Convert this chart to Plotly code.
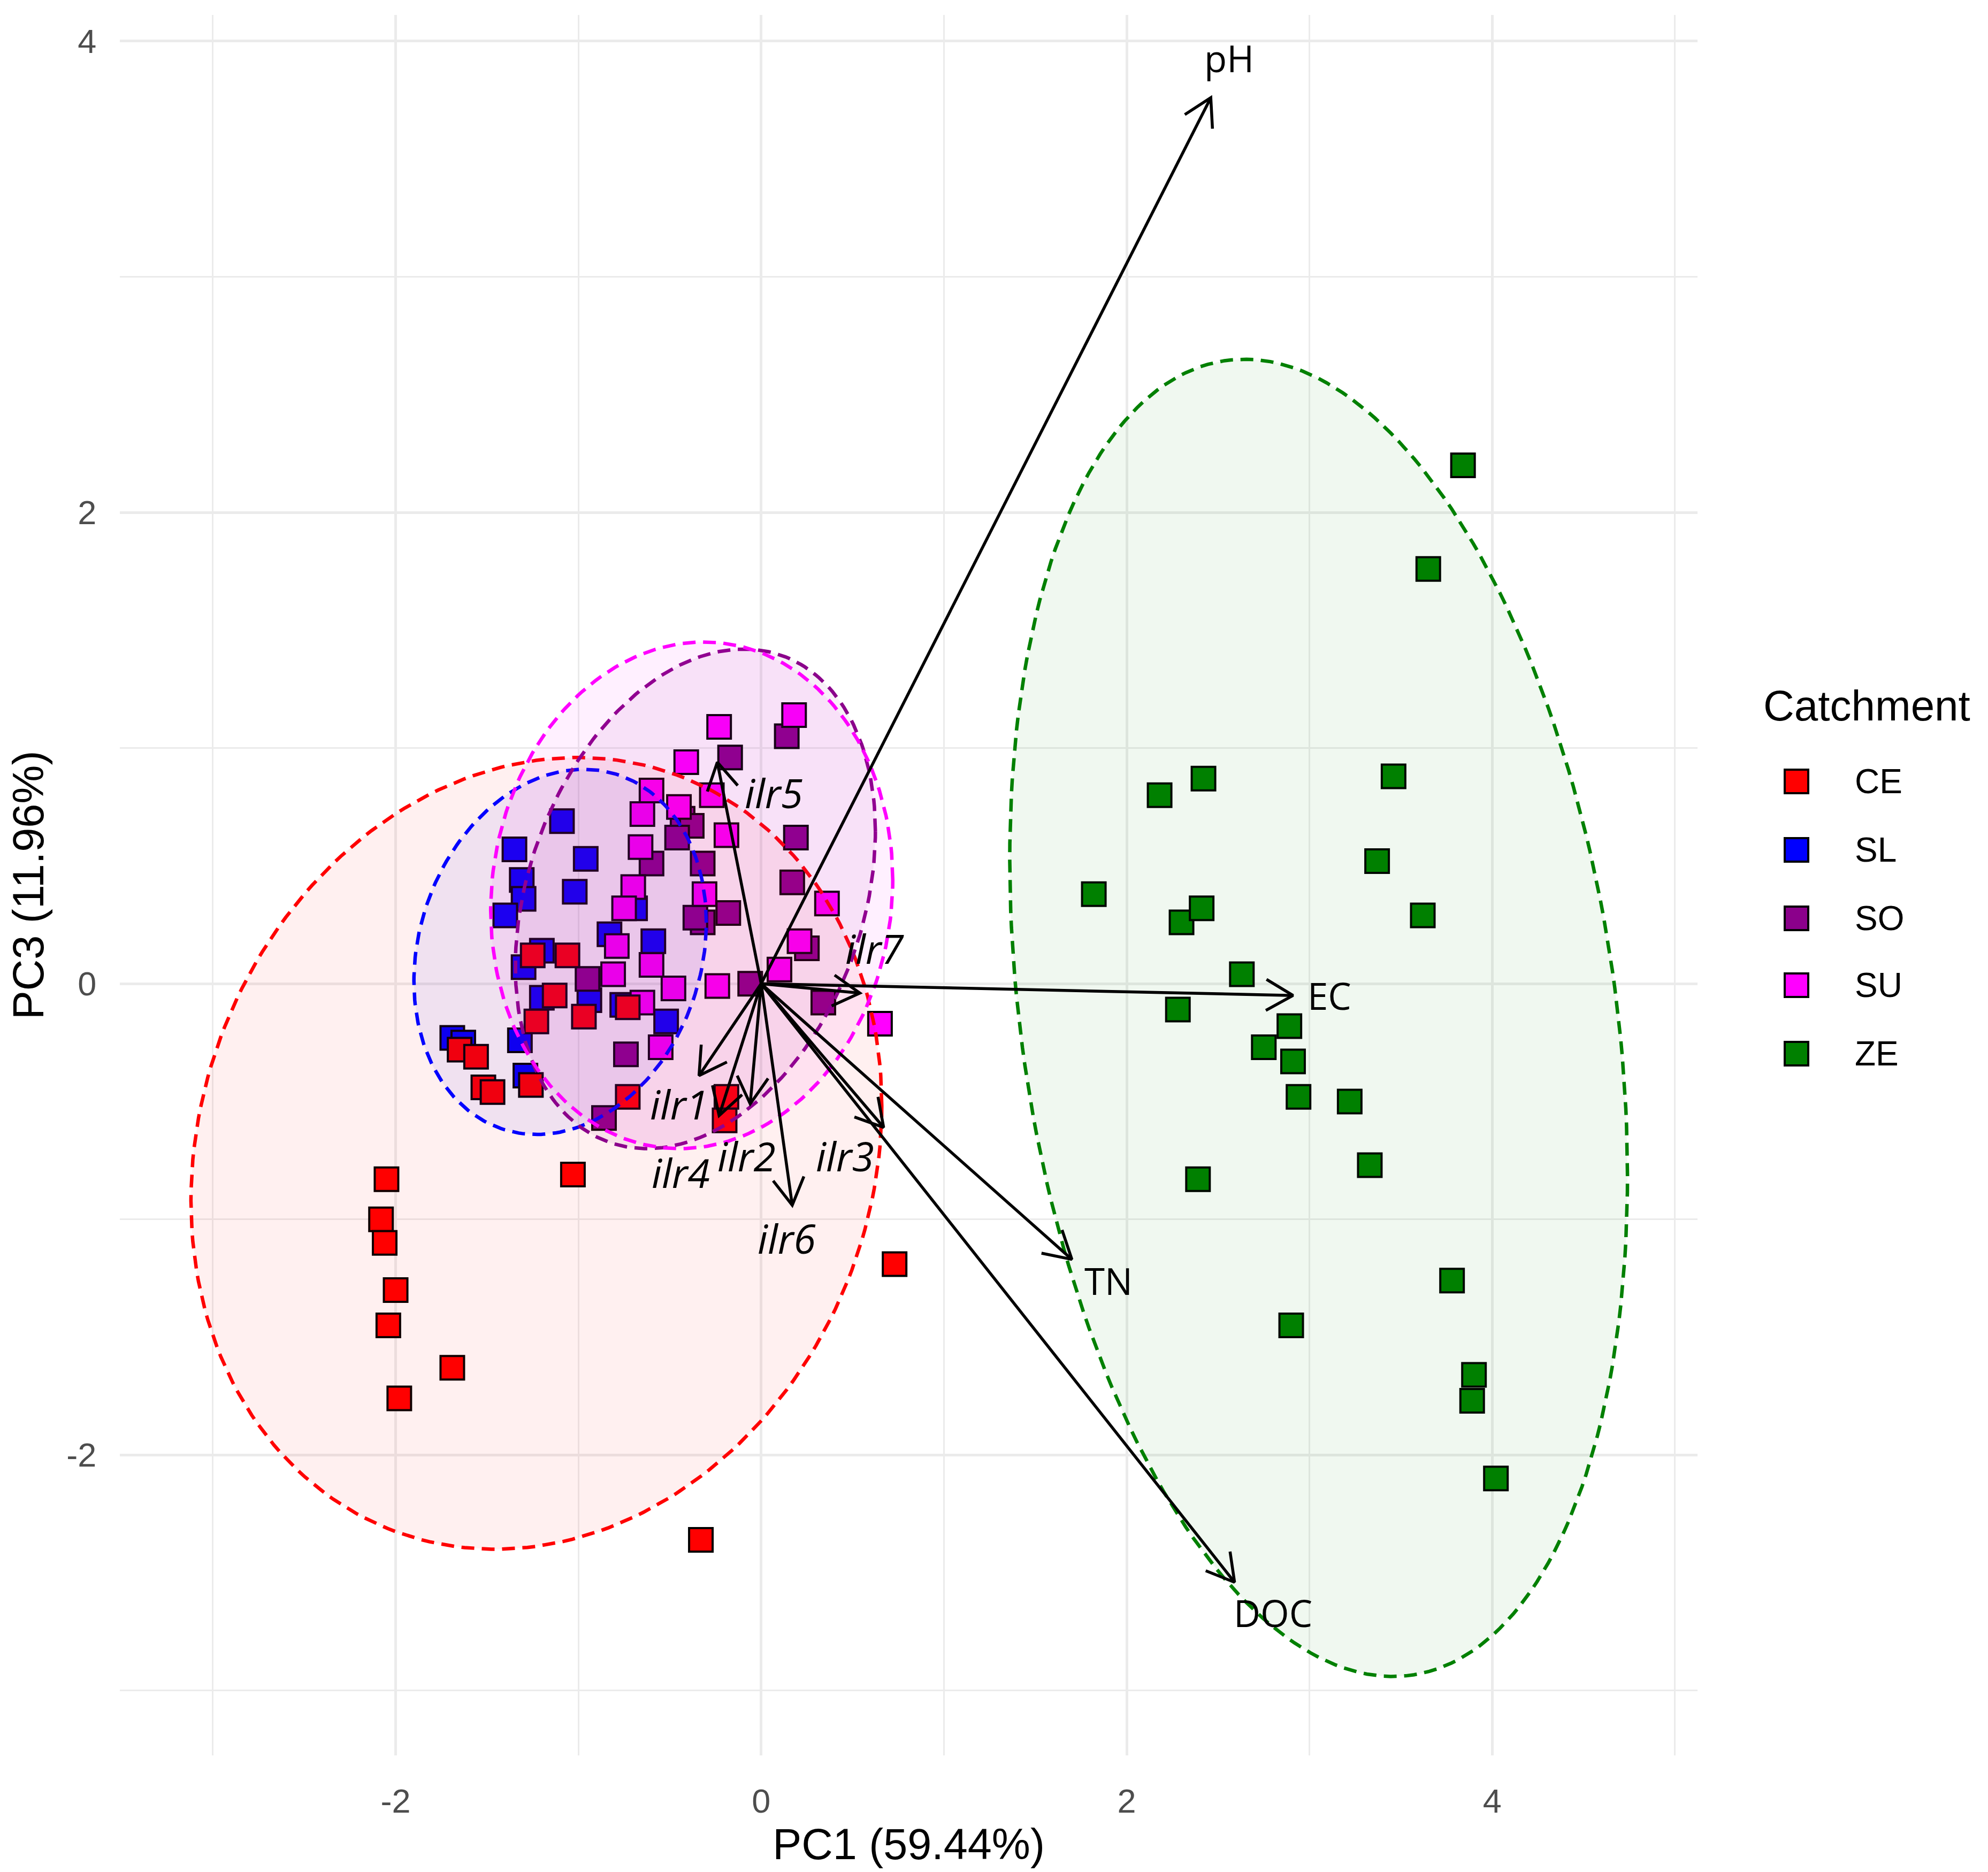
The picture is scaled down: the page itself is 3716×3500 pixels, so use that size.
import numpy as np
import plotly.graph_objects as go

# ---- scores (PC1, PC3) ----
ce_x = [-2.05, -2.08, -2.06, -2.00, -2.04, -1.98, -1.69, -0.33, 0.73, -1.03, -0.19, -0.20,
        -0.73, -1.65, -1.56, -1.52, -1.47, -1.26, -1.23, -1.13, -0.97, -1.25, -1.06, -0.73]
ce_y = [-0.83, -1.00, -1.10, -1.30, -1.45, -1.76, -1.63, -2.36, -1.19, -0.81, -0.48, -0.58,
        -0.48, -0.28, -0.31, -0.44, -0.46, -0.43, -0.16, -0.05, -0.14, 0.12, 0.12, -0.10]

sl_x = [-1.09, -1.35, -0.96, -1.31, -1.02, -1.30, -1.40, -0.69, -0.83, -0.59,
        -1.30, -1.20, -0.94, -1.20, -0.76, -0.52, -1.32, -1.69, -1.63, -1.29]
sl_y = [0.69, 0.57, 0.53, 0.44, 0.39, 0.36, 0.29, 0.32, 0.21, 0.18,
        0.07, 0.14, -0.07, -0.06, -0.09, -0.16, -0.24, -0.23, -0.25, -0.39]

so_x = [0.14, -0.17, 0.19, 0.17, -0.43, -0.38, -0.46, -0.32, -0.60,
        -0.18, -0.32, -0.36, 0.25, -0.06, -0.95, 0.34, -0.74, -0.86]
so_y = [1.05, 0.96, 0.62, 0.43, 0.70, 0.67, 0.62, 0.51, 0.51,
        0.30, 0.26, 0.28, 0.15, 0.00, 0.02, -0.08, -0.30, -0.57]

su_x = [-0.23, 0.18, -0.41, -0.60, -0.45, -0.27, -0.65, -0.19, -0.66, -0.70, -0.31, -0.75,
        0.36, -0.79, 0.21, 0.10, -0.60, -0.81, -0.24, -0.48, -0.65, 0.65, -0.55]
su_y = [1.09, 1.14, 0.94, 0.82, 0.75, 0.80, 0.72, 0.63, 0.58, 0.41, 0.38, 0.32,
        0.34, 0.16, 0.18, 0.06, 0.08, 0.04, -0.01, -0.02, -0.08, -0.17, -0.27]

ze_x = [3.84, 3.65, 2.42, 2.18, 3.46, 1.82, 2.30, 2.41, 3.37, 3.62, 2.63, 2.28,
        2.89, 2.75, 2.91, 2.94, 3.22, 3.33, 2.39, 3.78, 2.90, 3.90, 3.89, 4.02]
ze_y = [2.20, 1.76, 0.87, 0.80, 0.88, 0.38, 0.26, 0.32, 0.52, 0.29, 0.04, -0.11,
        -0.18, -0.27, -0.33, -0.48, -0.50, -0.77, -0.83, -1.26, -1.45, -1.66, -1.77, -2.10]

catchments = ["CE", "SL", "SO", "SU", "ZE"]
colors = {"CE": "#FF0000", "SL": "#0000FF", "SO": "#8B008B", "SU": "#FF00FF", "ZE": "#008000"}
fills = {"CE": "rgba(255,0,0,0.06)", "SL": "rgba(0,0,255,0.06)", "SO": "rgba(139,0,139,0.06)",
         "SU": "rgba(255,0,255,0.06)", "ZE": "rgba(0,128,0,0.06)"}
scores = {"CE": (ce_x, ce_y), "SL": (sl_x, sl_y), "SO": (so_x, so_y),
          "SU": (su_x, su_y), "ZE": (ze_x, ze_y)}

# 95% ellipses: centre, half-extent in x and y, correlation
ell_cx = [-1.23, -1.10, -0.36, -0.38, 3.05]
ell_cy = [-0.72, 0.135, 0.36, 0.375, -0.145]
ell_sx = [1.89, 0.80, 0.985, 1.10, 1.69]
ell_sy = [1.68, 0.775, 1.06, 1.075, 2.795]
ell_rho = [0.12, 0.16, 0.27, 0.06, -0.24]

# loadings
var_names = ["pH", "EC", "TN", "DOC", "ilr1", "ilr2", "ilr3", "ilr4", "ilr5", "ilr6", "ilr7"]
tip_x = [2.46, 2.91, 1.70, 2.59, -0.34, -0.06, 0.67, -0.23, -0.24, 0.17, 0.54]
tip_y = [3.76, -0.05, -1.17, -2.54, -0.39, -0.51, -0.61, -0.56, 0.94, -0.94, -0.04]
lab_x = [2.56, 3.11, 1.90, 2.80, -0.45, -0.08, 0.46, -0.44, 0.07, 0.14, 0.62]
lab_y = [3.93, -0.05, -1.26, -2.67, -0.51, -0.73, -0.73, -0.80, 0.81, -1.08, 0.15]

tick_vals = [-2, 0, 2, 4]
tick_text = ["-2", "0", "2", "4"]

# ---- geometry of the canvas ----
W, H = 3716, 3500
L, R, T, B = 216, 551, 20, 226
XR = [-3.509, 5.123]
YR = [-3.275, 4.111]
plot_w = W - L - R
plot_h = H - T - B
px_x = plot_w / (XR[1] - XR[0])
px_y = plot_h / (YR[1] - YR[0])


def paper_x(px):
    return (px - L) / plot_w


def paper_y(py):
    return (H - B - py) / plot_h


fig = go.Figure()

# points (drawn in this order so overlaps look like the original)
for c in ["SL", "SO", "SU", "CE", "ZE"]:
    xs, ys = scores[c]
    fig.add_trace(go.Scatter(
        x=xs, y=ys, mode="markers", name=c, showlegend=False,
        marker=dict(symbol="square", size=44, color=colors[c],
                    line=dict(color="black", width=4)),
    ))

# ellipses
t = np.linspace(0, 2 * np.pi, 241)
for i, c in enumerate(catchments):
    ex = ell_cx[i] + ell_sx[i] * np.cos(t)
    ey = ell_cy[i] + ell_sy[i] * (ell_rho[i] * np.cos(t) + np.sqrt(1 - ell_rho[i] ** 2) * np.sin(t))
    fig.add_trace(go.Scatter(
        x=ex, y=ey, mode="lines", fill="toself", fillcolor=fills[c],
        line=dict(color=colors[c], width=6.5, dash="24px,14px"),
        showlegend=False, hoverinfo="skip",
    ))

# loading arrows
ax, ay = [], []
hx, hy = [], []
head_len = 58
for tx, ty in zip(tip_x, tip_y):
    ax += [0, tx, None]
    ay += [0, ty, None]
    # open arrow head built in pixel space
    dx, dy = tx * px_x, ty * px_y
    n = np.hypot(dx, dy)
    ux, uy = dx / n, dy / n
    arms = []
    for a in (np.pi / 6, -np.pi / 6):
        rx = -(ux * np.cos(a) - uy * np.sin(a))
        ry = -(ux * np.sin(a) + uy * np.cos(a))
        arms.append((tx + rx * head_len / px_x, ty + ry * head_len / px_y))
    hx += [arms[0][0], tx, arms[1][0], None]
    hy += [arms[0][1], ty, arms[1][1], None]

fig.add_trace(go.Scatter(x=ax, y=ay, mode="lines", line=dict(color="black", width=5.5),
                         showlegend=False, hoverinfo="skip"))
fig.add_trace(go.Scatter(x=hx, y=hy, mode="lines", line=dict(color="black", width=5.5),
                         showlegend=False, hoverinfo="skip"))

for name, lx, ly in zip(var_names, lab_x, lab_y):
    italic = name.startswith("ilr")
    fig.add_annotation(
        x=lx, y=ly, xref="x", yref="y", showarrow=False,
        text=f"<i>{name}</i>" if italic else name,
        font=dict(family="Open Sans", size=75 if italic else 69, color="black"),
    )

# legend drawn by hand so the keys keep the size of the plotted squares
fig.add_annotation(x=paper_x(3286), y=paper_y(1311), xref="paper", yref="paper",
                   xanchor="left", yanchor="middle", showarrow=False, text="Catchment",
                   font=dict(family="Liberation Sans", size=80, color="black"))
row_y = [1453, 1581, 1709, 1834, 1962]
for c, py in zip(catchments, row_y):
    fig.add_shape(type="rect", xref="paper", yref="paper",
                  x0=paper_x(3350 - 22), x1=paper_x(3350 + 22),
                  y0=paper_y(py + 22), y1=paper_y(py - 22),
                  fillcolor=colors[c], line=dict(color="black", width=4))
    fig.add_annotation(x=paper_x(3457), y=paper_y(py), xref="paper", yref="paper",
                       xanchor="left", yanchor="middle", showarrow=False, text=c,
                       font=dict(family="Liberation Sans", size=64, color="black"))

axis_common = dict(
    showline=False, zeroline=False,
    gridcolor="#EBEBEB", gridwidth=4.5,
    tickmode="array", tickvals=tick_vals, ticktext=tick_text,
    ticks="outside", ticklen=30, tickcolor="rgba(0,0,0,0)",
    tickfont=dict(family="Liberation Sans", size=63, color="#4D4D4D"),
    minor=dict(dtick=1, tick0=0, showgrid=True, gridcolor="#EBEBEB", gridwidth=2.5),
)

fig.update_xaxes(range=XR, **axis_common,
                 title=dict(text="PC1 (59.44%)", standoff=18,
                            font=dict(family="Liberation Sans", size=81, color="black")))
fig.update_yaxes(range=YR, **axis_common,
                 title=dict(text="PC3 (11.96%)", standoff=30,
                            font=dict(family="Liberation Sans", size=81, color="black")))

fig.update_layout(
    width=W, height=H,
    margin=dict(l=L, r=R, t=T, b=B, autoexpand=False),
    plot_bgcolor="white", paper_bgcolor="white",
    showlegend=False,
)

fig.write_html("out.html")
